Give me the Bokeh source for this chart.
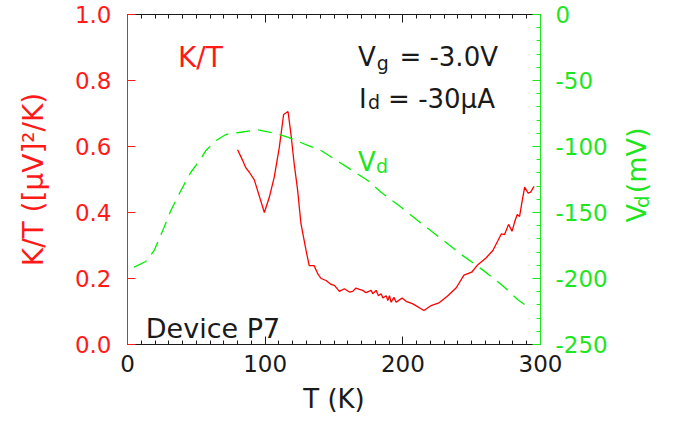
import math
from bokeh.plotting import figure
from bokeh.layouts import row
from bokeh.models import (Range1d, LinearAxis, SingleIntervalTicker,
                          NumeralTickFormatter, Label)
from bokeh.embed import file_html
from bokeh.resources import INLINE

# Thermal-noise quantity K/T versus temperature (left axis)
kt_temp = [80, 83.6, 86, 88.5, 92.1, 99.4, 103, 106.6, 110.3, 113.4, 116.6,
           118.8, 121, 123.6, 126, 129.7, 132, 135.5, 138.4, 140.6, 144.2,
           147.9, 150.3, 153.9, 157.5, 161.2, 163.6, 166, 168.4, 170.9, 173.3,
           176.9, 178.2, 180.6, 182.3, 184.2, 185.5, 187.9, 189.1, 190.3,
           191.5, 193.5, 195.1, 196.8, 199.5, 202.4, 207.3, 215.3, 220.6,
           226.6, 232.7, 238.8, 244.4, 250, 254.5, 260.6, 265.4, 269.1, 271.5,
           273.9, 276.8, 279.3, 281.2, 283.1, 284.8, 286.5, 288.5, 290.9,
           292.8, 295.3]
kt_value = [0.590, 0.558, 0.535, 0.522, 0.499, 0.400, 0.446, 0.507, 0.598,
            0.697, 0.706, 0.635, 0.550, 0.467, 0.366, 0.285, 0.239, 0.239,
            0.213, 0.200, 0.194, 0.182, 0.179, 0.161, 0.169, 0.159, 0.161,
            0.171, 0.167, 0.164, 0.157, 0.164, 0.154, 0.164, 0.148, 0.154,
            0.141, 0.148, 0.133, 0.148, 0.128, 0.143, 0.128, 0.133, 0.141,
            0.131, 0.123, 0.103, 0.118, 0.127, 0.148, 0.172, 0.210, 0.219,
            0.242, 0.263, 0.285, 0.315, 0.335, 0.333, 0.364, 0.343, 0.371,
            0.394, 0.388, 0.431, 0.477, 0.459, 0.462, 0.479]

# Drain voltage V_d versus temperature (right axis, mV)
vd_temp = [4.8, 13.3, 19.4, 26.6, 31.5, 38.8, 46, 53.3, 57, 64.2, 71.5, 81.2,
           94.5, 106.6, 116.4, 130.9, 140.6, 150, 160, 174.5, 184.2, 198.8,
           213.3, 227.9, 242.4, 257, 271.5, 283.6, 292.8]
vd_mv = [-191.4, -187.1, -178.8, -161.1, -148.5, -133.3, -119.5, -109.3,
         -103.0, -95.5, -90.9, -89.4, -87.4, -89.9, -92.9, -99.2, -103.0,
         -109.3, -116.0, -125.8, -134.6, -146.0, -158.1, -169.9, -181.8,
         -192.7, -204.5, -216.1, -223.0]

RED = "#ff1a1a"
GREEN = "#1ee61e"
INK = "#1a1a1a"
FONT = "DejaVu Sans"

p = figure(width=620, height=430, output_backend="svg", toolbar_location=None,
           x_range=Range1d(0, 300), y_range=Range1d(0, 1.0),
           min_border_left=127, min_border_right=80,
           min_border_top=14, min_border_bottom=86)
p.extra_y_ranges = {"vd": Range1d(-250, 0)}
p.outline_line_color = None
p.grid.visible = False
p.background_fill_color = "white"
p.border_fill_color = "white"


def inward_ticks(ax, color, minor=True):
    ax.axis_line_color = color
    ax.major_tick_line_color = color
    ax.minor_tick_line_color = color if minor else None
    ax.major_tick_in = 8
    ax.major_tick_out = 0
    ax.minor_tick_in = 4
    ax.minor_tick_out = 0


# bottom temperature axis
xa = p.xaxis[0]
xa.ticker = SingleIntervalTicker(interval=100, num_minor_ticks=10)
inward_ticks(xa, INK)
xa.axis_label = "T (K)"
xa.major_label_text_font = FONT
xa.major_label_text_font_size = "23px"
xa.major_label_text_color = INK
xa.major_label_standoff = 10
xa.axis_label_text_font = FONT
xa.axis_label_text_font_size = "26px"
xa.axis_label_text_font_style = "normal"
xa.axis_label_text_color = INK
xa.axis_label_standoff = 9

# top axis: ticks only
ta = LinearAxis(ticker=SingleIntervalTicker(interval=100, num_minor_ticks=10))
inward_ticks(ta, INK)
ta.major_label_text_color = None
ta.major_label_text_font_size = "2px"
ta.major_label_standoff = 0
p.add_layout(ta, "above")

# left K/T axis
ya = p.yaxis[0]
ya.ticker = SingleIntervalTicker(interval=0.2, num_minor_ticks=0)
ya.formatter = NumeralTickFormatter(format="0.0")
inward_ticks(ya, RED, minor=False)
ya.major_label_text_font = FONT
ya.major_label_text_font_size = "23px"
ya.major_label_text_color = RED
ya.major_label_standoff = 16
ya.axis_label = "K/T ([μV]²/K)"
ya.axis_label_text_font = FONT
ya.axis_label_text_font_size = "28px"
ya.axis_label_text_font_style = "normal"
ya.axis_label_text_color = RED
ya.axis_label_standoff = 22

# right V_d axis
ra = LinearAxis(y_range_name="vd",
                ticker=SingleIntervalTicker(interval=50, num_minor_ticks=5),
                formatter=NumeralTickFormatter(format="0"))
inward_ticks(ra, GREEN)
ra.major_label_text_font = FONT
ra.major_label_text_font_size = "23px"
ra.major_label_text_color = GREEN
ra.major_label_standoff = 15
p.add_layout(ra, "right")

# curves
p.line(kt_temp, kt_value, line_color="#ff0000", line_width=1.3)
p.line(vd_temp, vd_mv, y_range_name="vd", line_color="#00f000",
       line_width=1.3, line_dash="14 8")


def label(fig, x, y, text, size, color, angle=0.0):
    fig.add_layout(Label(x=x, y=y, text=text, text_font=FONT,
                         text_font_size=f"{size}px", text_color=color,
                         text_align="left", text_baseline="alphabetic",
                         angle=angle))


# in-plot annotations
label(p, 36.6, 0.870, "K/T", 28, RED)
label(p, 167.5, 0.870, "V", 26, INK)
label(p, 181.0, 0.852, "g", 19, INK)
label(p, 197.5, 0.870, "= -3.0V", 26, INK)
label(p, 168.2, 0.745, "I", 26, INK)
label(p, 174.7, 0.735, "d", 19, INK)
label(p, 189.3, 0.745, "= -30μA", 26, INK)
label(p, 167.5, 0.552, "V", 26, GREEN)
label(p, 180.5, 0.540, "d", 19, GREEN)
label(p, 13.3, 0.048, "Device P7", 27, INK)

# narrow strip holding the right axis title V_d (mV), read bottom-to-top
t = figure(width=57, height=430, output_backend="svg", toolbar_location=None,
           x_range=Range1d(0, 57), y_range=Range1d(430, 0),
           x_axis_type=None, y_axis_type=None, min_border=0)
t.outline_line_color = None
t.grid.visible = False
t.background_fill_color = "white"
t.border_fill_color = "white"
label(t, 16, 271, "V", 27, GREEN, math.pi / 2)
label(t, 21, 252, "d", 20, GREEN, math.pi / 2)
label(t, 16, 233, "(mV)", 27, GREEN, math.pi / 2)

layout = row(p, t)
open("out.html", "w").write(file_html(layout, INLINE))
